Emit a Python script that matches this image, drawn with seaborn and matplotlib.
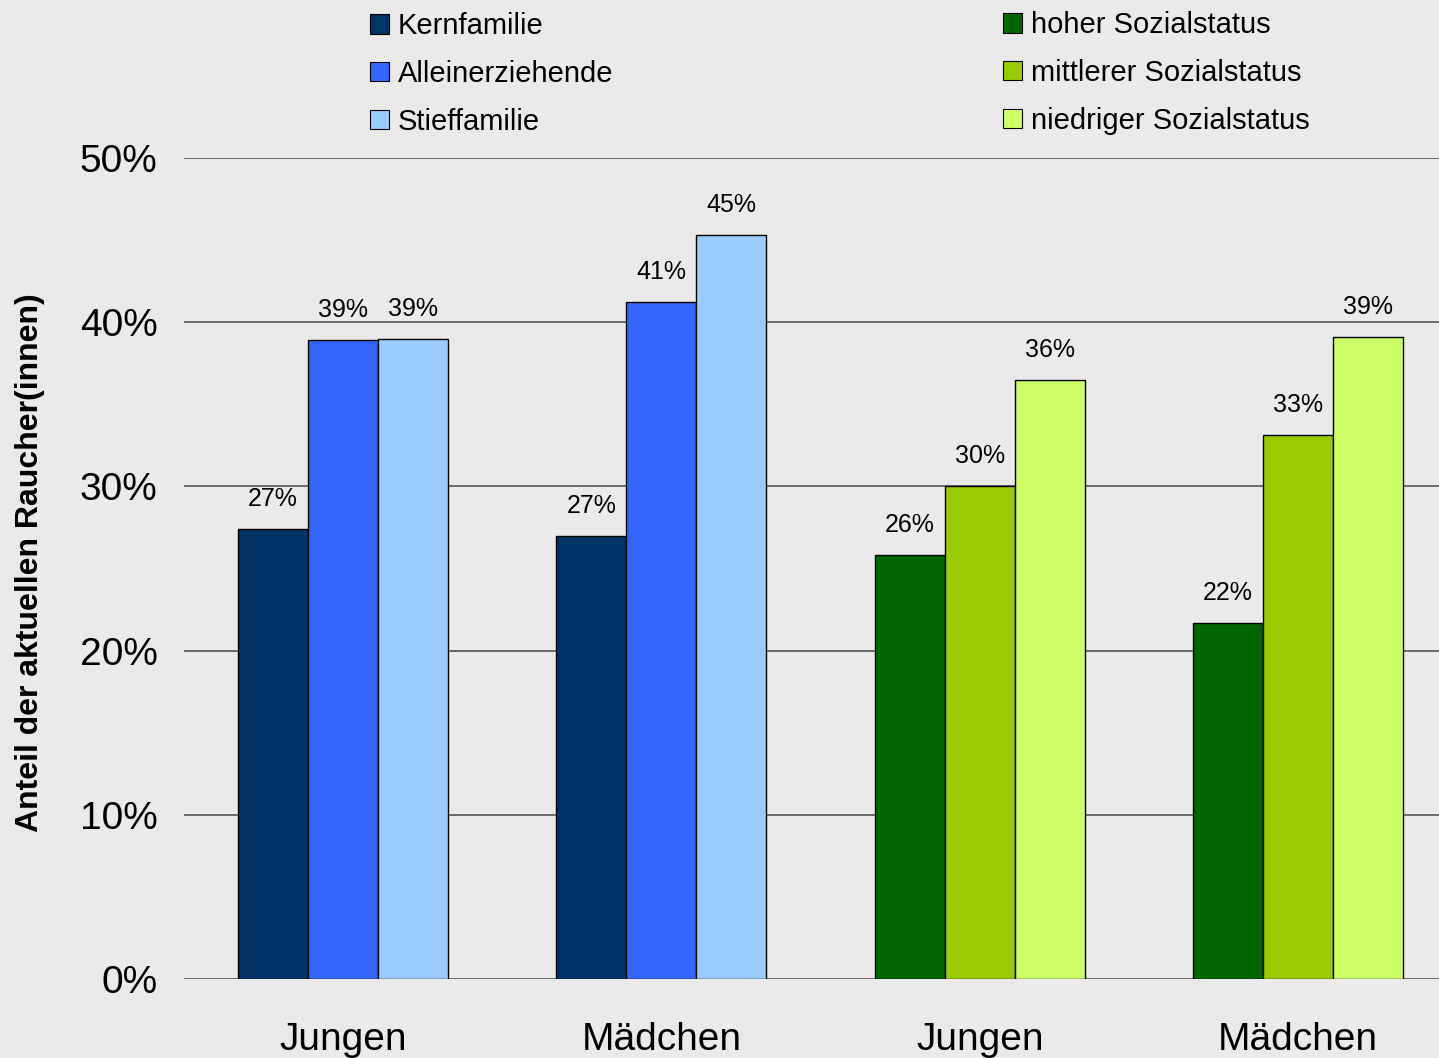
import pandas as pd
import matplotlib
matplotlib.use("Agg")
import matplotlib.pyplot as plt
from matplotlib.patches import Patch
import seaborn as sns

# Werte (Anteil in %)
groups = ["Jungen", "Mädchen", "Jungen", "Mädchen"]
family_labels = ["Kernfamilie", "Alleinerziehende", "Stieffamilie"]
status_labels = ["hoher Sozialstatus", "mittlerer Sozialstatus", "niedriger Sozialstatus"]
family_jungen = [27.4, 38.9, 39.0]
family_maedchen = [27.0, 41.2, 45.3]
status_jungen = [25.8, 30.0, 36.5]
status_maedchen = [21.7, 33.1, 39.1]
family_colors = ["#003366", "#3366FF", "#99CCFF"]
status_colors = ["#006600", "#99CC00", "#CCFF66"]

group_values = [family_jungen, family_maedchen, status_jungen, status_maedchen]
group_colors = [family_colors, family_colors, status_colors, status_colors]
slots = ["s1", "s2", "s3"]

rows = []
for gi, vals in enumerate(group_values):
    for si, v in enumerate(vals):
        rows.append({"gid": f"g{gi}", "slot": slots[si], "value": v})
df = pd.DataFrame(rows)

sns.set_style("white")
plt.rcParams["font.family"] = ["Liberation Sans", "DejaVu Sans"]
plt.rcParams["text.color"] = "black"
plt.rcParams["xtick.color"] = "black"
plt.rcParams["ytick.color"] = "black"
bg = "#EAEAEA"

fig = plt.figure(figsize=(14.39, 10.58), dpi=100, facecolor=bg)
ax = fig.add_axes([184 / 1439, 79 / 1058, 1255 / 1439, 821 / 1058])
ax.set_facecolor(bg)

sns.barplot(data=df, x="gid", y="value", hue="slot", hue_order=slots,
            order=[f"g{i}" for i in range(4)], width=0.66, dodge=True,
            palette=["#888888"] * 3, saturation=1, legend=False,
            edgecolor="black", linewidth=1, ax=ax)

for si, cont in enumerate(ax.containers):
    for gi, bar in enumerate(cont):
        bar.set_facecolor(group_colors[gi][si])
    labs = [f"{group_values[gi][si]:.0f}%" for gi in range(4)]
    ax.bar_label(cont, labels=labs, padding=13, fontsize=18, color="black")

ax.set_xlim(-0.5, 3.443)
ax.set_ylim(0, 50)
ax.set_yticks(range(0, 51, 10))
ax.set_yticklabels([f"{t}%" for t in range(0, 51, 10)], fontsize=28)
ax.set_xticks(range(4))
ax.set_xticklabels(groups, fontsize=28)
ax.tick_params(axis="y", length=0, pad=19, colors="black")
ax.tick_params(axis="x", length=0, pad=31, colors="black")
ax.set_xlabel("")
ax.set_ylabel("")
ax.yaxis.grid(True, color="#555555", linewidth=1.2)
ax.set_axisbelow(True)
for s in ax.spines.values():
    s.set_visible(False)

fig.text(30 / 1439, 1 - 563 / 1058, "Anteil der aktuellen Raucher(innen)",
         rotation=90, ha="center", va="center", fontsize=23,
         fontweight="bold", color="black")

def make_legend(labels, colors, x, y):
    handles = [Patch(facecolor=c, edgecolor="black", linewidth=0.8) for c in colors]
    return fig.legend(handles, labels, loc="center left", bbox_to_anchor=(x, y),
                      frameon=False, fontsize=21, handlelength=0.65,
                      handleheight=0.65, handletextpad=0.3, labelspacing=0.68,
                      borderpad=0, borderaxespad=0)

make_legend(family_labels, family_colors, 370 / 1439, 1 - 74 / 1058)
make_legend(status_labels, status_colors, 1003 / 1439, 1 - 73 / 1058)

fig.savefig("out.png", dpi=100, facecolor=bg)
